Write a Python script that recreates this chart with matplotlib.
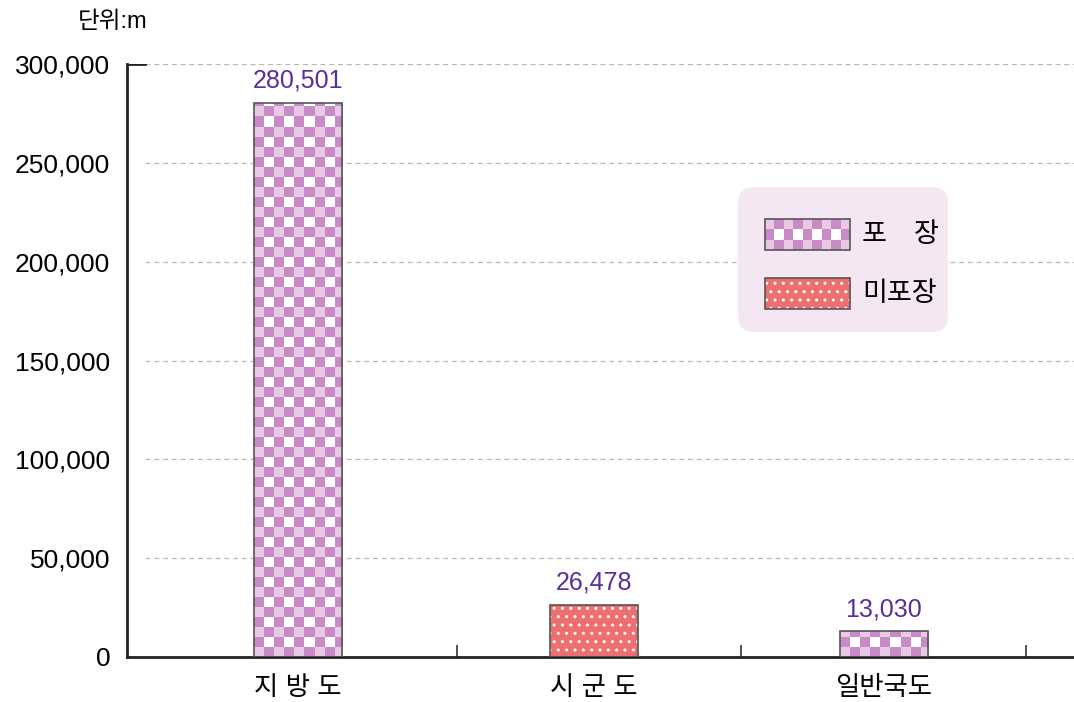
import numpy as np
import matplotlib.pyplot as plt
import matplotlib.colors as mc
from matplotlib.patches import Rectangle, FancyBboxPatch

plt.rcParams['font.family'] = ['Liberation Sans', 'Noto Sans CJK KR']

# data
categories = ['지 방 도', '시 군 도', '일반국도']
values = [280501, 26478, 13030]
surface = ['포장', '미포장', '포장']   # which pattern each bar uses
yticks = [0, 50000, 100000, 150000, 200000, 250000, 300000]
legend_labels = ['포\u3000장', '미포장']
unit_label = '단위:m'

PURPLE = '#c88bc5'
LIGHT = '#e9c8e6'
SALMON = '#ee6f6f'
LABEL_C = '#5a2d9c'
EDGE = '#555555'

W, H = 1074, 702
XLIM = (-0.662, 2.67)
YLIM = (0, 300000)
BAR_W = 0.31
BAR_SHIFT = [-0.06, -0.02, 0.0]   # bars sit a bit off the tick-cell centres
CELL = 10  # checker cell size in pixels

fig = plt.figure(figsize=(W / 100, H / 100), dpi=100)
ax = fig.add_axes([127 / W, 1 - 657 / H, 947 / W, 593 / H])


def checker_img(nx, ny):
    p = mc.to_rgb(PURPLE)
    l = mc.to_rgb(LIGHT)
    img = np.ones((ny, nx, 3))
    for i in range(ny):
        for j in range(nx):
            if (i + j) % 2:
                img[i, j] = p
            elif i % 2 == 0:
                img[i, j] = l
    return img


# cell size in data units
cx = CELL * (XLIM[1] - XLIM[0]) / 947
cy = CELL * (YLIM[1] - YLIM[0]) / 593

x = np.arange(len(categories))
for xi, sh, v, kind in zip(x, BAR_SHIFT, values, surface):
    xb = xi + sh
    if kind == '포장':
        outline = ax.bar(xb, v, BAR_W, facecolor='none', edgecolor=EDGE,
                         linewidth=1.2, zorder=3)[0]
        nx = int(np.ceil(BAR_W / cx))
        ny = int(np.ceil(v / cy))
        x0 = xb - BAR_W / 2
        im = ax.imshow(checker_img(nx, ny), origin='lower', interpolation='nearest',
                       extent=(x0, x0 + nx * cx, 0, ny * cy), aspect='auto', zorder=2)
        im.set_clip_path(outline)
    else:
        ax.bar(xb, v, BAR_W, color=SALMON, edgecolor='none', zorder=2)
        ax.bar(xb, v, BAR_W, facecolor='none', edgecolor='white', hatch='..',
               linewidth=0, zorder=2.5)
        ax.bar(xb, v, BAR_W, facecolor='none', edgecolor=EDGE, linewidth=1.2, zorder=3)
    ax.annotate(f'{v:,}', (xb, v), xytext=(0, 7), textcoords='offset points',
                ha='center', va='bottom', color=LABEL_C, fontsize=18)

# grid
for yv in yticks[1:]:
    ax.axhline(yv, xmin=0.019, color='#b8b8b8', linestyle=(0, (4, 3)), linewidth=0.9, zorder=0)
ax.axhline(yticks[-1], xmax=0.019, color='#222222', linewidth=2, zorder=4)

ax.set_xlim(*XLIM)
ax.set_ylim(*YLIM)

ax.set_yticks(yticks)
ax.set_yticklabels([f'{v:,}' for v in yticks])
ax.tick_params(axis='y', length=0, pad=12, labelsize=19)
ax.set_xticks(x + np.array(BAR_SHIFT))
ax.set_xticklabels(categories, fontweight='medium')
ax.tick_params(axis='x', which='major', length=0, pad=14, labelsize=19)
ax.set_xticks([0.5, 1.5, 2.5], minor=True)
ax.tick_params(axis='x', which='minor', direction='in', length=9, width=1.2, color='#333333')

for s in ['top', 'right']:
    ax.spines[s].set_visible(False)
for s in ['left', 'bottom']:
    ax.spines[s].set_linewidth(2)
    ax.spines[s].set_color('#222222')

# overlay in pixel coords for unit label and legend
ov = fig.add_axes([0, 0, 1, 1])
ov.axis('off')

ov.text(78, 22, unit_label, fontsize=17, va='center', ha='left')

ov.add_patch(FancyBboxPatch((738, 187), 210, 145, boxstyle='round,pad=0,rounding_size=16',
                            facecolor='#f4e7f2', edgecolor='none'))
# checker legend patch
ov.imshow(checker_img(9, 3)[::-1], origin='upper', interpolation='nearest',
          extent=(765, 765 + 85, 250, 219), aspect='auto', zorder=3)
ov.add_patch(Rectangle((765, 219), 85, 31, facecolor='none', edgecolor=EDGE, lw=1.2, zorder=4))
# salmon legend patch
ov.add_patch(Rectangle((765, 278), 85, 31, facecolor=SALMON, edgecolor='none', zorder=3))
ov.add_patch(Rectangle((765, 278), 85, 31, facecolor='none', edgecolor='white', hatch='..',
                       lw=0, zorder=3.5))
ov.add_patch(Rectangle((765, 278), 85, 31, facecolor='none', edgecolor=EDGE, lw=1.2, zorder=4))
ov.set_xlim(0, W)
ov.set_ylim(H, 0)

ov.text(862, 235, legend_labels[0], fontsize=19.5, va='center', ha='left', fontweight='medium')
ov.text(862, 294, legend_labels[1], fontsize=19.5, va='center', ha='left', fontweight='medium')

fig.savefig('out.png', dpi=100)
